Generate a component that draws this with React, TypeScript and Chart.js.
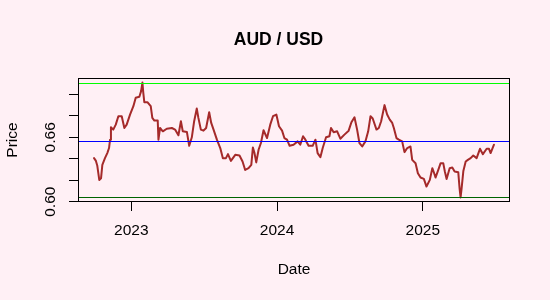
import { useEffect, useRef } from 'react';
import { Chart, registerables } from 'chart.js';

Chart.register(...registerables);

const FONT = '"Liberation Sans", Arial, Helvetica, sans-serif';

const chartTitle = 'AUD / USD';
const xAxisTitle = 'Date';
const yAxisTitle = 'Price';

// dates as decimal years
const dates = [
  2022.744, 2022.757, 2022.766, 2022.780, 2022.792, 2022.801, 2022.819, 2022.835, 2022.847, 2022.854,
  2022.860, 2022.876, 2022.893, 2022.911, 2022.934, 2022.952, 2022.968, 2022.991, 2023.014, 2023.030,
  2023.055, 2023.067, 2023.076, 2023.082, 2023.089, 2023.110, 2023.133, 2023.144, 2023.158, 2023.181,
  2023.186, 2023.197, 2023.216, 2023.243, 2023.278, 2023.300, 2023.323, 2023.340, 2023.353, 2023.381,
  2023.397, 2023.415, 2023.431, 2023.449, 2023.460, 2023.477, 2023.495, 2023.513, 2023.534, 2023.548,
  2023.564, 2023.587, 2023.610, 2023.628, 2023.649, 2023.663, 2023.683, 2023.713, 2023.742, 2023.763,
  2023.781, 2023.804, 2023.823, 2023.834, 2023.845, 2023.857, 2023.873, 2023.889, 2023.907, 2023.931,
  2023.953, 2023.972, 2023.995, 2024.013, 2024.034, 2024.050, 2024.068, 2024.086, 2024.113, 2024.141,
  2024.159, 2024.178, 2024.194, 2024.216, 2024.244, 2024.263, 2024.278, 2024.297, 2024.313, 2024.336,
  2024.359, 2024.370, 2024.388, 2024.412, 2024.434, 2024.462, 2024.491, 2024.510, 2024.531, 2024.549,
  2024.565, 2024.584, 2024.606, 2024.625, 2024.641, 2024.656, 2024.682, 2024.698, 2024.714, 2024.737,
  2024.755, 2024.773, 2024.790, 2024.801, 2024.819, 2024.835, 2024.858, 2024.874, 2024.893, 2024.915,
  2024.927, 2024.950, 2024.966, 2024.984, 2025.007, 2025.025, 2025.048, 2025.065, 2025.076, 2025.087,
  2025.106, 2025.122, 2025.140, 2025.151, 2025.163, 2025.184, 2025.202, 2025.218, 2025.243, 2025.252,
  2025.259, 2025.266, 2025.278, 2025.294, 2025.309, 2025.328, 2025.346, 2025.369, 2025.392, 2025.412,
  2025.438, 2025.454, 2025.465, 2025.488,
];

const prices = [
  0.6406, 0.6380, 0.6338, 0.6203, 0.6218, 0.6343, 0.6406, 0.6453, 0.6500, 0.6578,
  0.6694, 0.6672, 0.6718, 0.6797, 0.6797, 0.6687, 0.6718, 0.6812, 0.6890, 0.6969,
  0.6978, 0.7031, 0.7110, 0.7015, 0.6928, 0.6928, 0.6890, 0.6781, 0.6756, 0.6756,
  0.6578, 0.6687, 0.6656, 0.6680, 0.6687, 0.6672, 0.6619, 0.6750, 0.6656, 0.6650,
  0.6521, 0.6600, 0.6750, 0.6868, 0.6781, 0.6672, 0.6662, 0.6687, 0.6834, 0.6734,
  0.6672, 0.6578, 0.6500, 0.6406, 0.6406, 0.6443, 0.6380, 0.6437, 0.6431, 0.6375,
  0.6296, 0.6312, 0.6343, 0.6506, 0.6453, 0.6366, 0.6484, 0.6547, 0.6666, 0.6593,
  0.6718, 0.6797, 0.6812, 0.6703, 0.6662, 0.6593, 0.6578, 0.6521, 0.6531, 0.6562,
  0.6531, 0.6610, 0.6578, 0.6521, 0.6521, 0.6578, 0.6453, 0.6415, 0.6500, 0.6600,
  0.6610, 0.6687, 0.6647, 0.6656, 0.6587, 0.6625, 0.6662, 0.6740, 0.6787, 0.6672,
  0.6547, 0.6515, 0.6562, 0.6656, 0.6797, 0.6775, 0.6672, 0.6687, 0.6750, 0.6900,
  0.6812, 0.6765, 0.6734, 0.6687, 0.6593, 0.6578, 0.6562, 0.6462, 0.6500, 0.6515,
  0.6390, 0.6359, 0.6265, 0.6225, 0.6212, 0.6141, 0.6203, 0.6312, 0.6272, 0.6225,
  0.6296, 0.6359, 0.6359, 0.6281, 0.6212, 0.6312, 0.6318, 0.6281, 0.6275, 0.6125,
  0.6040, 0.6125, 0.6287, 0.6375, 0.6390, 0.6406, 0.6431, 0.6406, 0.6493, 0.6443,
  0.6493, 0.6493, 0.6453, 0.6531,
];

const xTickValues = [2023, 2024, 2025];
const xTickLabels = ['2023', '2024', '2025'];
const yTickValues = [0.60, 0.62, 0.64, 0.66, 0.68, 0.70];
const yTickLabels = ['0.60', '', '', '0.66', '', ''];

const levelValues = [0.711, 0.6566, 0.604]; // max, mean, min
const levelColors = ['#00FF00', '#0000FF', '#006400'];

const xRange = [2022.634, 2025.598];
const yRange = [0.5997, 0.7153];

const overlayPlugin = {
  id: 'roverlay',
  afterDatasetsDraw(chart: any) {
    const { ctx, chartArea } = chart;
    const { left, top, right, bottom } = chartArea;
    const yScale = chart.scales.y;
    ctx.save();
    ctx.lineWidth = 1;
    levelValues.forEach((v, i) => {
      const py = Math.round(yScale.getPixelForValue(v)) + 0.5;
      ctx.strokeStyle = levelColors[i];
      ctx.beginPath();
      ctx.moveTo(left, py);
      ctx.lineTo(right, py);
      ctx.stroke();
    });
    ctx.strokeStyle = '#000000';
    ctx.strokeRect(left + 0.5, top + 0.5, right - left - 1, bottom - top - 1);
    ctx.restore();
  },
};

export default function App() {
  const ref = useRef<HTMLCanvasElement | null>(null);

  useEffect(() => {
    if (!ref.current) return;
    const tickFont = { family: FONT, size: 15.5, lineHeight: 1.2 };
    const chart = new Chart(ref.current, {
      type: 'line',
      data: {
        datasets: [
          {
            data: dates.map((d, i) => ({ x: d, y: prices[i] })),
            borderColor: '#A52A2A',
            borderWidth: 2,
            pointRadius: 0,
            tension: 0,
            fill: false,
            borderJoinStyle: 'round',
            borderCapStyle: 'round',
          },
        ] as any,
      },
      options: {
        responsive: false,
        animation: false,
        events: [],
        layout: { padding: { left: 7, right: 0, top: 0, bottom: 0 } },
        plugins: {
          legend: { display: false },
          tooltip: { enabled: false },
          title: {
            display: true,
            text: chartTitle,
            color: '#000000',
            font: { family: FONT, size: 17.5, weight: 'bold', lineHeight: 1.2 },
            padding: { top: 29.5, bottom: 27.5 },
          },
        },
        scales: {
          x: {
            type: 'linear',
            min: xRange[0],
            max: xRange[1],
            afterBuildTicks: (s: any) => {
              s.ticks = xTickValues.map((v) => ({ value: v }));
            },
            afterFit: (s: any) => {
              s.height = 98;
            },
            grid: { display: true, drawOnChartArea: false, drawTicks: true, tickLength: 9, color: '#000000', lineWidth: 1 },
            border: { display: false },
            ticks: {
              color: '#000000',
              font: tickFont,
              padding: 10.7,
              maxRotation: 0,
              autoSkip: false,
              callback: (_v: any, i: number) => xTickLabels[i],
            },
            title: {
              display: true,
              text: xAxisTitle,
              color: '#000000',
              font: tickFont,
              padding: { top: 0, bottom: 20.7 },
            },
          },
          y: {
            type: 'linear',
            position: 'left',
            min: yRange[0],
            max: yRange[1],
            afterBuildTicks: (s: any) => {
              s.ticks = yTickValues.map((v) => ({ value: v }));
            },
            afterFit: (s: any) => {
              s.width = 71;
            },
            grid: { display: true, drawOnChartArea: false, drawTicks: true, tickLength: 9, color: '#000000', lineWidth: 1 },
            border: { display: false },
            ticks: {
              color: '#000000',
              font: tickFont,
              padding: 3,
              minRotation: 90,
              maxRotation: 90,
              crossAlign: 'center',
              autoSkip: false,
              callback: (_v: any, i: number) => yTickLabels[i],
            },
            title: {
              display: true,
              text: yAxisTitle,
              color: '#000000',
              font: tickFont,
              padding: { top: -3.8, bottom: 0 },
            },
          },
          y2: {
            type: 'linear',
            position: 'right',
            display: true,
            grid: { display: false },
            border: { display: false },
            ticks: { display: false },
            afterFit: (s: any) => {
              s.width = 40;
            },
          },
        },
      } as any,
      plugins: [overlayPlugin],
    });
    return () => chart.destroy();
  }, []);

  return (
    <div
      style={{
        position: 'fixed',
        left: 0,
        top: 0,
        width: 550,
        height: 300,
        background: '#FFF0F5',
      }}
    >
      <canvas ref={ref} width={550} height={300} style={{ display: 'block' }} />
    </div>
  );
}
